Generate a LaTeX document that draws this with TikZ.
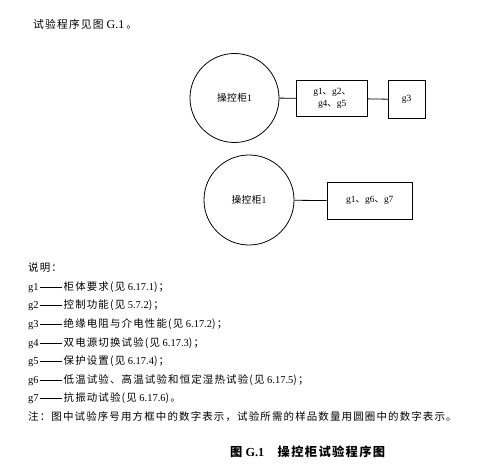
\documentclass[tikz,border=0pt]{standalone}
\usepackage{fontspec}
\setmainfont{Liberation Serif}
\newfontfamily\cjk[LetterSpace=11]{Noto Sans CJK SC}
\newfontfamily\cjkc[LetterSpace=4]{Noto Sans CJK SC}
\newcommand{\gdash}{\hspace{1bp}\rule[3.2bp]{22bp}{0.45bp}\hspace{2bp}}
\begin{document}
\begin{tikzpicture}[x=1bp,y=-1bp,
  conn/.style={line width=0.8pt},
  circ/.style={draw,line width=0.8pt,circle,inner sep=0pt},
  bx/.style={draw,line width=0.8pt,rectangle,inner sep=0pt,align=center,font=\fontsize{9.5}{12.7}\selectfont},
  txt/.style={anchor=west,inner sep=0pt,font=\fontsize{10.8}{13}\selectfont},
  leg/.style={anchor=west,inner sep=0pt,font=\fontsize{10.5}{13}\selectfont}]
\useasboundingbox (0,0) rectangle (498,469);
\node[txt] (title) at (33,24) {{\cjk 试验程序见图}\hspace{3bp}{\fontsize{12}{13}\selectfont G.1}\hspace{2bp}{\cjk 。}};
% row 1
\node[circ,minimum size=89bp,font=\fontsize{9.8}{12}\selectfont] (c1) at (234.5,98) {{\cjkc 操控柜}1};
\node[bx,minimum width=71bp,minimum height=36.7bp] (b1) at (332.2,98.3) {g1{\cjkc 、}g2{\cjkc 、}\\g4{\cjkc 、}g5};
\node[bx,minimum width=36.7bp,minimum height=37.3bp] (b2) at (406.7,99.5) {g3};
\draw[conn] (c1) -- (b1);
\draw[conn] (b1) -- (b2);
% row 2
\node[circ,minimum size=90bp,font=\fontsize{9.8}{12}\selectfont] (c2) at (249,200) {{\cjkc 操控柜}1};
\node[bx,minimum width=85.7bp,minimum height=37bp] (b3) at (369.8,200.8) {g1{\cjkc 、}g6{\cjkc 、}g7};
\draw[conn] (c2) -- (b3);
% legend
\node[leg] (l0) at (28,268) {{\cjk 说明：}};
\node[leg] (l1) at (28,287) {g1\gdash{\cjk 柜体要求(见} 6.17.1{\cjk )；}};
\node[leg] (l2) at (28,305.5) {g2\gdash{\cjk 控制功能(见} 5.7.2{\cjk )；}};
\node[leg] (l3) at (28,324.5) {g3\gdash{\cjk 绝缘电阻与介电性能(见} 6.17.2{\cjk )；}};
\node[leg] (l4) at (28,343) {g4\gdash{\cjk 双电源切换试验(见} 6.17.3{\cjk )；}};
\node[leg] (l5) at (28,361.5) {g5\gdash{\cjk 保护设置(见} 6.17.4{\cjk )；}};
\node[leg] (l6) at (28,380) {g6\gdash{\cjk 低温试验、高温试验和恒定湿热试验(见} 6.17.5{\cjk )；}};
\node[leg] (l7) at (28,398.5) {g7\gdash{\cjk 抗振动试验(见} 6.17.6{\cjk )。}};
\node[leg] (l8) at (28,417) {{\cjk 注：图中试验序号用方框中的数字表示，试验所需的样品数量用圆圈中的数字表示。}};
\node[anchor=west,inner sep=0pt,font=\fontsize{12.3}{14}\bfseries] (cap) at (230,452) {{\cjk\bfseries 图} G.1\hspace{1.1em}{\cjk\bfseries 操控柜试验程序图}};
\end{tikzpicture}
\end{document}
